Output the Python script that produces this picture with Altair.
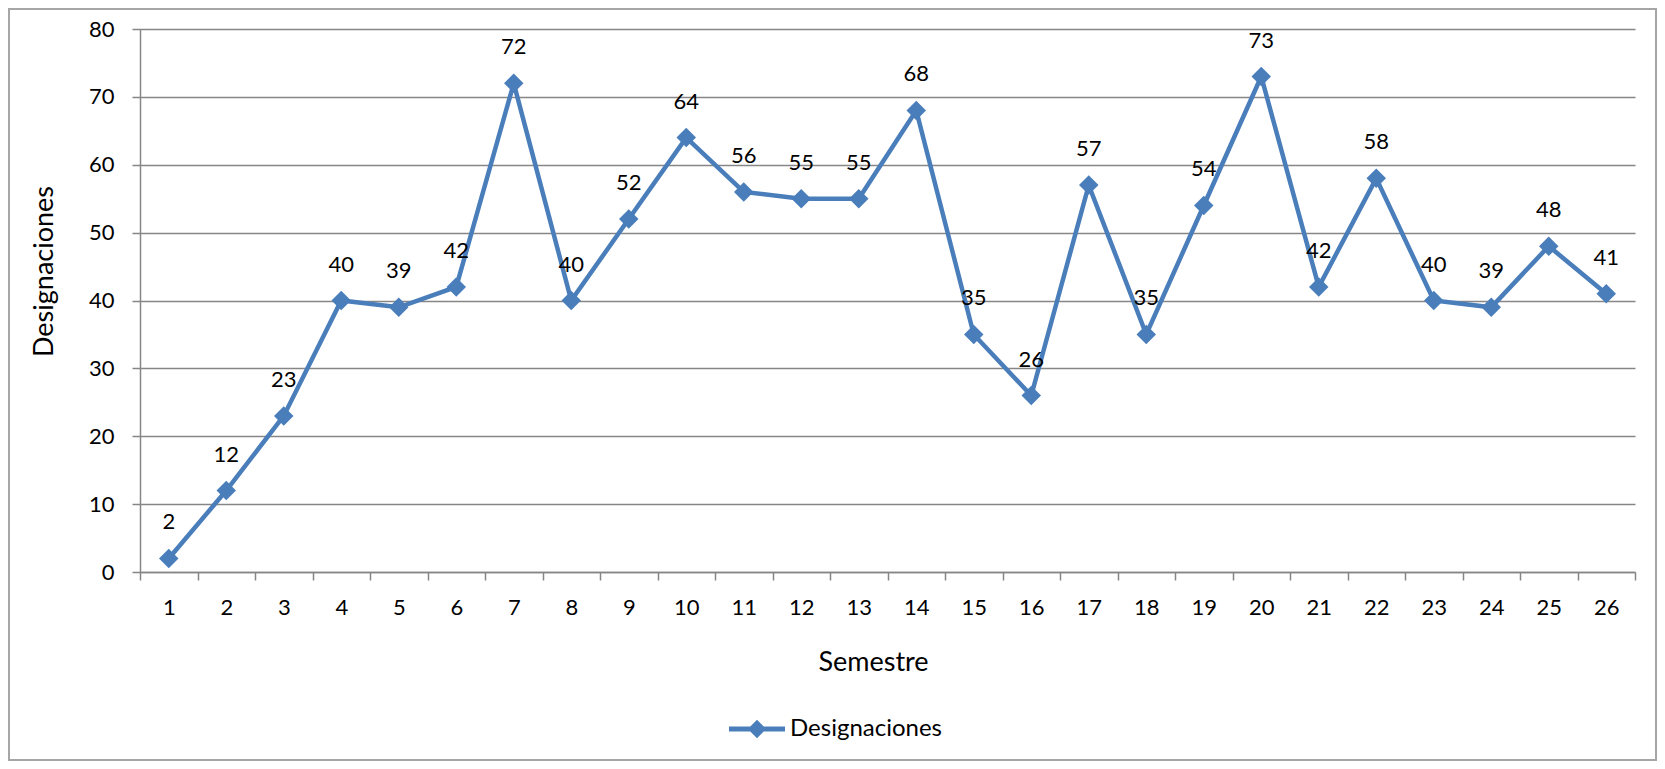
import altair as alt
import pandas as pd

semestres = [1, 2, 3, 4, 5, 6, 7, 8, 9, 10, 11, 12, 13, 14, 15, 16, 17, 18, 19, 20, 21, 22, 23, 24, 25, 26]
designaciones = [2, 12, 23, 40, 39, 42, 72, 40, 52, 64, 56, 55, 55, 68, 35, 26, 57, 35, 54, 73, 42, 58, 40, 39, 48, 41]
serie = "Designaciones"
y_ticks = [0, 10, 20, 30, 40, 50, 60, 70, 80]

df = pd.DataFrame({"Semestre": semestres, "Designaciones": designaciones, "Serie": [serie] * len(semestres)})

BLUE = "#4A7EBB"
GRAY = "#868686"
FONT = "Lato"
W, H = 1495, 543

x = alt.X(
    "Semestre:O",
    scale=alt.Scale(type="band", paddingInner=0, paddingOuter=0),
    axis=alt.Axis(
        title="Semestre", labelAngle=0, tickBand="extent", grid=False,
        domainColor=GRAY, domainWidth=1.5, tickColor=GRAY, tickWidth=1.5, tickSize=8,
        labelPadding=17, labelFontSize=22, labelFont=FONT, labelColor="black",
        titleFontSize=27, titleFont=FONT, titleFontWeight="normal", titleColor="black",
        titleX=733, titleY=90, titleBaseline="middle", titleAlign="center",
    ),
)
y = alt.Y(
    "Designaciones:Q",
    scale=alt.Scale(domain=[0, 80], nice=False),
    axis=alt.Axis(
        values=y_ticks, grid=True, gridColor=GRAY, gridWidth=1.5,
        domainColor=GRAY, domainWidth=1.5, tickColor=GRAY, tickWidth=1.5, tickSize=8,
        labelPadding=18, labelFontSize=22, labelFont=FONT, labelColor="black",
        title="Designaciones", titleFontSize=27, titleFont=FONT, titleFontWeight="normal",
        titleColor="black", titleX=-96, titleY=242, titleAngle=270,
        titleBaseline="middle", titleAlign="center",
    ),
)

legend_path = ("M-1,-0.09L-0.24,-0.09L0,-0.33L0.24,-0.09L1,-0.09L1,0.09"
               "L0.24,0.09L0,0.33L-0.24,0.09L-1,0.09Z")

border = alt.Chart(df).mark_rect(fill="transparent", stroke="#A6A6A6", strokeWidth=1.5).encode(
    x=alt.value(-131), x2=alt.value(W + 21), y=alt.value(-20), y2=alt.value(H + 188)
)

line = alt.Chart(df).mark_line(color=BLUE, strokeWidth=4.5).encode(x=x, y=y)

points = alt.Chart(df).mark_point(shape="diamond", filled=True, size=380, opacity=1).encode(
    x=x, y=y,
    color=alt.Color(
        "Serie:N",
        scale=alt.Scale(range=[BLUE]),
        legend=alt.Legend(
            title=None, orient="none", legendX=589, legendY=672,
            symbolType=legend_path, symbolSize=3136, symbolStrokeWidth=0,
            symbolFillColor=BLUE, labelFontSize=24, labelFont=FONT,
            labelColor="black", labelOffset=5, padding=0,
        ),
    ),
)

labels = alt.Chart(df).mark_text(dy=-36, fontSize=22, font=FONT, color="black", baseline="middle").encode(
    x=x, y=y, text="Designaciones:Q"
)

chart = alt.layer(border, line, points, labels).properties(
    width=W, height=H,
    autosize=alt.AutoSizeParams(type="none"),
    padding={"left": 132, "top": 21, "right": 22, "bottom": 189},
    background="white",
).configure_view(strokeWidth=0)

chart.save("out.html", embed_options={"renderer": "svg", "actions": False})
